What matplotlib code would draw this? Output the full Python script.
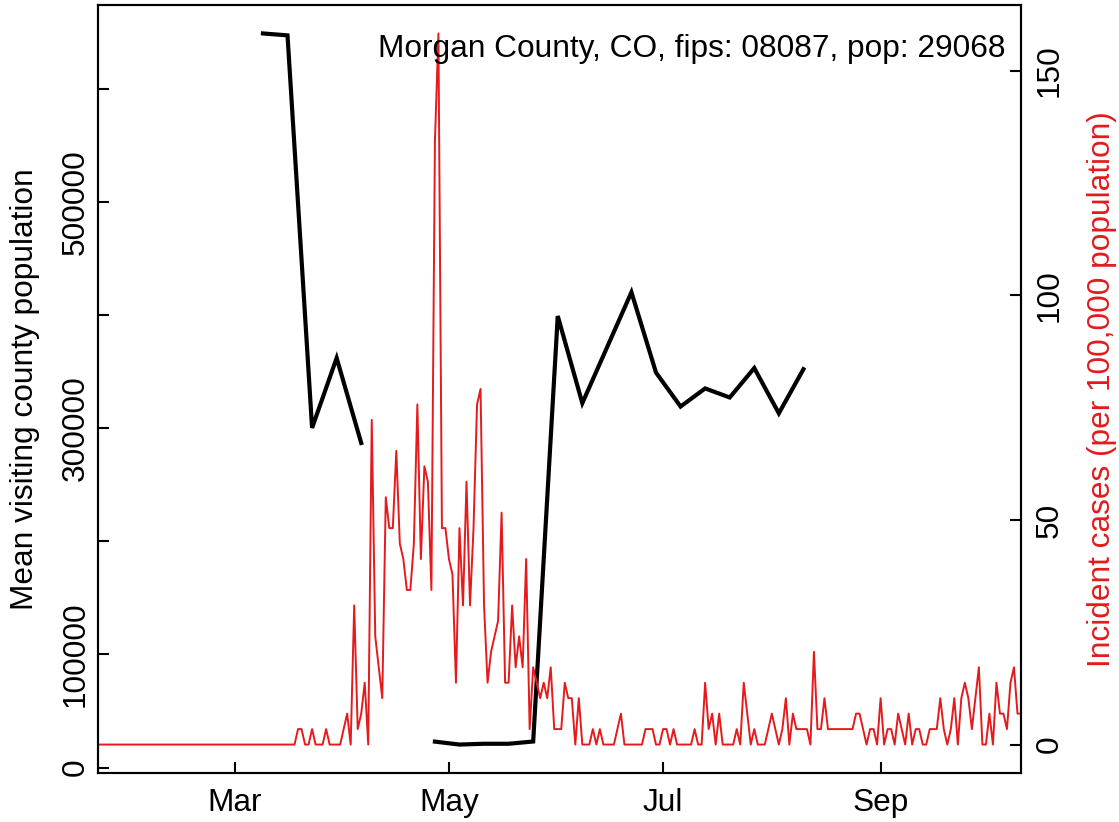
import numpy as np
import pandas as pd
import matplotlib
matplotlib.use("Agg")
import matplotlib.pyplot as plt

plt.rcParams['font.family'] = ['Liberation Sans', 'DejaVu Sans']

# --- 数据 ---
county_title = "Morgan County, CO, fips: 08087, pop: 29068"
county_pop = 29068

# 每日新增病例数 (2020-01-22 起)
case_start = "2020-01-22"
daily_cases = [
    0, 0, 0, 0, 0, 0, 0, 0, 0, 0, 0, 0, 0, 0, 0, 0, 0, 0, 0, 0,
    0, 0, 0, 0, 0, 0, 0, 0, 0, 0, 0, 0, 0, 0, 0, 0, 0, 0, 0, 0,
    0, 0, 0, 0, 0, 0, 0, 0, 0, 0, 0, 0, 0, 0, 0, 0,
    0, 1, 1, 0, 0, 1, 0, 0, 0, 1, 0, 0, 0, 0, 1, 2, 0, 9, 1, 2,
    4, 0, 21, 7, 5, 3, 16, 14, 14, 19, 13, 12, 10, 10, 13, 22, 12, 18, 17, 10,
    39, 46, 14, 14, 12, 11, 4, 14, 9, 17, 9, 14, 22, 23, 9, 4, 6, 7, 8, 15,
    4, 4, 9, 5, 7, 5, 12, 1, 5, 4, 3, 4, 3, 5, 1, 1,
    1, 4, 3, 3, 0, 3, 0, 0, 0, 1, 0, 1, 0, 0, 0, 0, 1, 2, 0, 0,
    0, 0, 0, 0, 1, 1, 1, 0, 0, 1, 1, 0, 1, 0, 0, 0, 0, 0, 1, 0,
    0, 4, 1, 2, 0, 2, 0, 0, 0, 0, 1, 0, 4, 2, 0, 1, 0, 0, 0, 1,
    2, 1, 0, 1, 3, 0, 2, 1, 1, 1, 1, 0, 6, 1, 1, 3, 1, 1, 1, 1,
    1, 1, 1, 1, 2, 2, 1, 0, 1, 1, 0, 3, 0, 1, 1, 0, 2, 1, 0, 2,
    0, 1, 1, 0, 0, 1, 1, 1, 3, 1, 0, 1, 3, 0, 3, 4, 3, 1, 3, 5,
    0, 0, 2, 0, 4, 2, 2, 1, 4, 5, 2, 2,
]

# 每周平均来访人口 (周一, 2020-03-09 起)
visit_start = "2020-03-09"
visit_mean = [648700, 647000, 300100, 361900, 286800, np.nan, np.nan,
              22900, 20300, 21000, 21000, 23000,
              399000, 322000, 371000, 420000, 349000, 319000,
              335000, 327000, 353000, 313000, 352000]

left_ticks = [0, 100000, 200000, 300000, 400000, 500000, 600000]
left_labels = ["0", "100000", "", "300000", "", "500000", ""]
right_ticks = [0, 50, 100, 150]
month_ticks = ["2020-03-01", "2020-05-01", "2020-07-01", "2020-09-01"]
month_labels = ["Mar", "May", "Jul", "Sep"]

red = "#E41A1C"
fs = 22.8

case_dates = pd.date_range(case_start, periods=len(daily_cases), freq="D")
case_rate = np.array(daily_cases) * 100000.0 / county_pop
visit_dates = pd.date_range(visit_start, periods=len(visit_mean), freq="7D")


def r_range(vals):
    # 仿照 R 的默认坐标范围 (两端各留 4%)
    lo, hi = np.nanmin(vals), np.nanmax(vals)
    pad = 0.04 * (hi - lo)
    return lo - pad, hi + pad


fig = plt.figure(figsize=(11.19, 8.22), dpi=100)
W, H = 1119, 822
ax = fig.add_axes([98 / W, 49 / H, 923 / W, 768 / H])

ax.plot(visit_dates, visit_mean, color="black", lw=3.0, solid_joinstyle="miter")
ax.set_xlim(case_dates[0], case_dates[-1])
ax.set_ylim(*r_range(visit_mean))
ax.set_yticks(left_ticks)
ax.set_yticklabels(left_labels, rotation=90, va="center")
ax.set_xticks(pd.to_datetime(month_ticks))
ax.set_xticklabels(month_labels)
ax.tick_params(direction="in", length=8, width=1.5, labelsize=fs)
ax.tick_params(axis="y", pad=5)
ax.tick_params(axis="x", pad=10.8)
for s in ax.spines.values():
    s.set_linewidth(1.5)

ax2 = ax.twinx()
ax2.plot(case_dates, case_rate, color=red, lw=1.4)
ax2.set_ylim(*r_range(case_rate))
ax2.set_yticks(right_ticks)
ax2.set_yticklabels([str(t) for t in right_ticks], rotation=90, va="center")
ax2.tick_params(direction="in", length=8, width=1.5, labelsize=fs, pad=10)
for s in ax2.spines.values():
    s.set_linewidth(1.5)
ax2.set_xlim(case_dates[0], case_dates[-1])

ax2.text(0.9837, 0.9323, county_title, transform=ax.transAxes,
         ha="right", va="baseline", fontsize=fs)

fig.text(25 / W, 1 - 389 / H, "Mean visiting county population",
         rotation=90, ha="center", va="center", fontsize=fs)
fig.text(1102 / W, 1 - 389 / H, "Incident cases (per 100,000 population)",
         rotation=90, ha="center", va="center", fontsize=fs, color=red)

fig.savefig("out.png", dpi=100)
